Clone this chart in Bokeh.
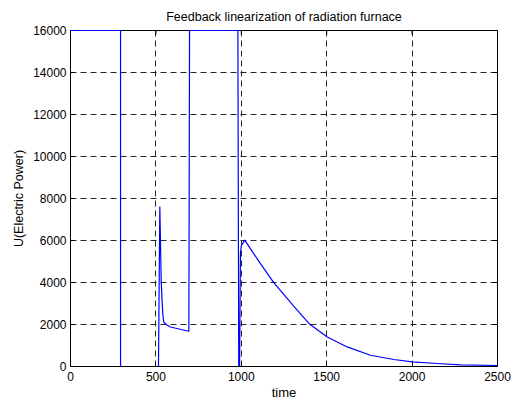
import math
from bokeh.plotting import figure
from bokeh.models import Range1d, SingleIntervalTicker
from bokeh.embed import file_html
from bokeh.resources import INLINE

# time samples and control signal U (Electric Power)
time = [0, 293, 293, 515, 523, 531, 537, 541, 546, 566, 585, 693, 697,
        980, 985, 990, 995, 1000, 1020, 1112, 1190, 1308, 1401, 1503, 1620,
        1756, 1893, 2000, 2147, 2283, 2500]
u = [16000, 16000, 0, 0, 7620, 4100, 2990, 2440, 2120, 1960, 1880, 1680, 16000,
     16000, 0, 0, 5400, 5750, 6020, 4895, 3990, 2866, 2010, 1407, 932,
     537, 333, 219, 143, 76, 48]

x_ticks = [0, 500, 1000, 1500, 2000, 2500]
y_ticks = [0, 2000, 4000, 6000, 8000, 10000, 12000, 14000, 16000]

title = "Feedback linearization of radiation furnace"
x_label = "time"
y_label = "U(Electric Power)"

FONT = "Liberation Sans"
X0, X1 = x_ticks[0], x_ticks[-1]
Y0, Y1 = y_ticks[0], y_ticks[-1]

p = figure(width=518, height=403, output_backend="svg", toolbar_location=None,
           x_range=Range1d(X0, X1), y_range=Range1d(Y0, Y1),
           min_border_left=70, min_border_right=21, min_border_top=30,
           min_border_bottom=37, title=title)

p.background_fill_color = "white"
p.border_fill_color = "white"
p.outline_line_color = None

p.title.align = "center"
p.title.text_font = FONT
p.title.text_font_size = "12.5px"
p.title.text_font_style = "normal"
p.title.text_color = "black"
p.title.standoff = 13

p.xaxis.ticker = SingleIntervalTicker(interval=500)
p.yaxis.ticker = SingleIntervalTicker(interval=2000)
p.xgrid.ticker = SingleIntervalTicker(interval=500)
p.ygrid.ticker = SingleIntervalTicker(interval=2000)

for ax in (p.xaxis[0], p.yaxis[0]):
    ax.major_tick_in = 4
    ax.major_tick_out = 0
    ax.minor_tick_in = 0
    ax.minor_tick_out = 0
    ax.axis_line_color = None
    ax.major_tick_line_color = "black"
    ax.major_label_text_font = FONT
    ax.major_label_text_font_size = "12px"
    ax.major_label_text_color = "black"
    ax.axis_label_text_font = FONT
    ax.axis_label_text_font_style = "normal"
    ax.axis_label_text_color = "black"

p.xaxis.major_label_standoff = 5
p.yaxis.major_label_standoff = 4
p.xaxis.axis_label = x_label
p.yaxis.axis_label = y_label
p.xaxis.axis_label_text_font_size = "13px"
p.yaxis.axis_label_text_font_size = "12.5px"
p.xaxis.axis_label_standoff = 1
p.yaxis.axis_label_standoff = 4

for g in (p.xgrid[0], p.ygrid[0]):
    g.grid_line_color = "black"
    g.grid_line_dash = "6 4"
    g.grid_line_width = 1
    g.grid_line_alpha = 0.85

# inward ticks on the top and right edges (half of each dash clipped by the frame)
p.scatter(x_ticks, [Y1] * len(x_ticks), marker="dash", size=8, angle=math.pi / 2,
          line_color="black", line_width=1)
p.scatter([X1] * len(y_ticks), y_ticks, marker="dash", size=8,
          line_color="black", line_width=1)

# top and right frame edges, under the curve
p.segment(x0=[X0, X1], y0=[Y1, Y0], x1=[X1, X1], y1=[Y1, Y1],
          line_color="black", line_width=1, level="overlay")

p.line(time, u, line_color="#0000ff", line_width=1.2, level="overlay")

# left and bottom frame edges, over the curve
p.segment(x0=[X0, X0], y0=[Y0, Y0], x1=[X0, X1], y1=[Y1, Y0],
          line_color="black", line_width=1, level="overlay")

open("out.html", "w").write(file_html(p, INLINE))
